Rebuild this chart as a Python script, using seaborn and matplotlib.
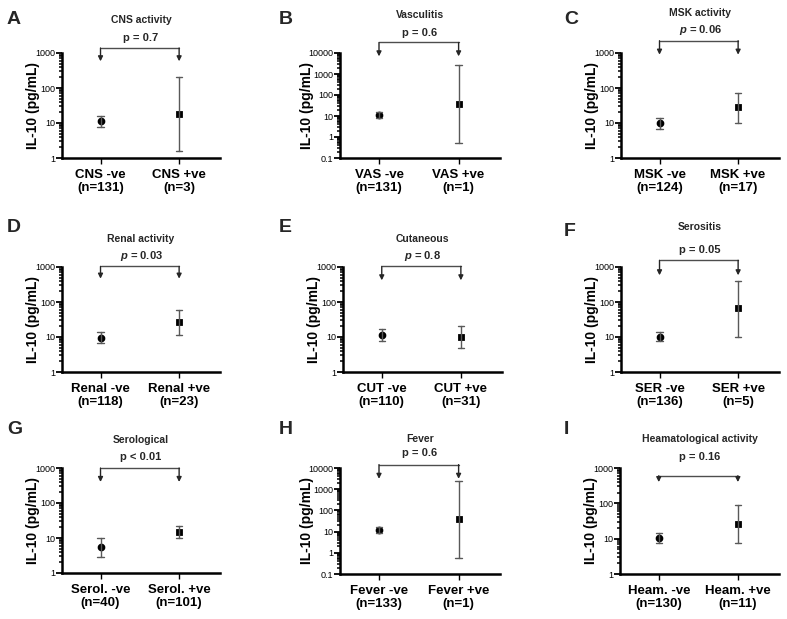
#!/usr/bin/env python3
# IL-10 levels by clinical domain, 3x3 grid of median + range plots

import numpy as np
import pandas as pd
import seaborn as sns
import matplotlib.pyplot as plt
from matplotlib.ticker import NullFormatter

sns.set_style("ticks")
plt.rcParams['font.family'] = ['Liberation Sans', 'DejaVu Sans']
plt.rcParams['mathtext.fontset'] = 'custom'
plt.rcParams['mathtext.it'] = 'Liberation Sans:italic:bold'

panels = list("ABCDEFGHI")
titles = ["CNS activity", "Vasculitis", "MSK activity",
          "Renal activity", "Cutaneous", "Serositis",
          "Serological", "Fever", "Heamatological activity"]
p_labels = ["p = 0.7", "p = 0.6", "$p$ = 0.06",
            "$p$ = 0.03", "$p$ = 0.8", "p = 0.05",
            "p < 0.01", "p = 0.6", "p = 0.16"]
neg_names = ["CNS -ve", "VAS -ve", "MSK -ve", "Renal -ve", "CUT -ve",
             "SER -ve", "Serol. -ve", "Fever -ve", "Heam. -ve"]
pos_names = ["CNS +ve", "VAS +ve", "MSK +ve", "Renal +ve", "CUT +ve",
             "SER +ve", "Serol. +ve", "Fever +ve", "Heam. +ve"]
n_neg = [131, 131, 124, 118, 110, 136, 40, 133, 130]
n_pos = [3, 1, 17, 23, 31, 5, 101, 1, 11]

# median and range (pg/mL)
neg_mid = [11.5, 11.0, 10.3, 9.6, 11.4, 10.2, 5.5, 12.0, 10.5]
neg_lo = [7.9, 8.3, 6.9, 6.7, 7.9, 7.5, 2.9, 8.7, 7.3]
neg_hi = [16.0, 15.9, 14.3, 13.6, 16.6, 14.2, 10.3, 15.9, 14.9]
pos_mid = [18.2, 36.0, 28.4, 26.8, 10.0, 67.0, 14.9, 39.0, 26.0]
pos_lo = [1.55, 0.52, 10.3, 11.2, 4.9, 10.2, 10.3, 0.6, 7.6]
pos_hi = [204, 2570, 74, 60, 20.6, 407, 22, 2450, 89]

y_min = [1, 0.1, 1, 1, 1, 1, 1, 0.1, 1]
y_max = [1000, 10000, 1000, 1000, 1000, 1000, 1000, 10000, 1000]

# layout in pixels: axes left, right, top, bottom
W, H = 787, 619
boxes = [(62, 220, 53, 158), (340, 500, 53, 158), (621, 779, 53, 158),
         (62, 220, 267, 372), (343, 502, 267, 372), (621, 779, 267, 372),
         (62, 220, 468, 573), (340, 500, 468, 574), (620, 779, 468, 574)]
letter_xy = [(7, 20), (279, 20), (564, 20),
             (7, 228), (279, 228), (564, 231),
             (7, 430), (279, 430), (564, 430)]
# axes-fraction heights: title, p text, bracket, arrow tip
ann_y = [(1.317, 1.143, 1.048, 0.921), (1.365, 1.19, 1.10, 0.968),
         (1.38, 1.222, 1.117, 0.984), (1.27, 1.105, 1.006, 0.889),
         (1.27, 1.105, 1.006, 0.873), (1.38, 1.165, 1.064, 0.921),
         (1.27, 1.105, 1.0, 0.867), (1.27, 1.137, 1.032, 0.898),
         (1.27, 1.105, 0.927, 0.867)]

fig = plt.figure(figsize=(W / 100, H / 100), dpi=100)

for i in range(9):
    l, r, t, b = boxes[i]
    ax = fig.add_axes([l / W, 1 - b / H, (r - l) / W, (b - t) / H])

    lab_neg = f"{neg_names[i]}\n(n={n_neg[i]})"
    lab_pos = f"{pos_names[i]}\n(n={n_pos[i]})"
    df = pd.DataFrame({
        "group": [lab_neg] * 3 + [lab_pos] * 3,
        "status": ["neg"] * 3 + ["pos"] * 3,
        "value": [neg_lo[i], neg_mid[i], neg_hi[i],
                  pos_lo[i], pos_mid[i], pos_hi[i]],
    })

    sns.pointplot(
        data=df, x="group", y="value", hue="status",
        order=[lab_neg, lab_pos], hue_order=["neg", "pos"],
        palette=["black", "black"], markers=["o", "s"], linestyle="none",
        estimator="median", errorbar=("pi", 100), capsize=0.08,
        err_kws={"color": "0.35", "linewidth": 1.0}, markersize=3.5,
        log_scale=(False, True), legend=False, ax=ax,
    )

    ax.set_ylim(y_min[i], y_max[i])
    ax.set_xlim(-0.49, 1.52)
    lo_exp = int(round(np.log10(y_min[i])))
    hi_exp = int(round(np.log10(y_max[i])))
    ticks = [10.0 ** k for k in range(lo_exp, hi_exp + 1)]
    minor = [m * 10.0 ** k for k in range(lo_exp, hi_exp) for m in range(2, 10)]
    tick_labels = [f"{v:g}" for v in ticks]
    ax.set_yticks(ticks, labels=tick_labels)
    ax.set_yticks(minor, minor=True)
    ax.yaxis.set_minor_formatter(NullFormatter())

    sns.despine(ax=ax)
    for side in ("left", "bottom"):
        ax.spines[side].set_linewidth(1.8)
        ax.spines[side].set_color("black")
    ax.tick_params(axis="y", which="major", length=4, width=1.3, labelsize=6.5,
                   pad=1, color="black", labelcolor="black")
    ax.tick_params(axis="y", which="minor", length=2.2, width=1.1, color="black")
    ax.tick_params(axis="x", length=4, width=1.0, labelsize=9.5, pad=4,
                   color="black", labelcolor="black")
    for tl in ax.get_xticklabels():
        tl.set_fontweight("bold")
        tl.set_linespacing(1.1)

    ax.set_xlabel("")
    ax.set_ylabel("IL-10 (pg/mL)", fontsize=10, fontweight="bold", color="black")
    nchar = max(len(s) for s in tick_labels)
    ax.yaxis.set_label_coords(-(4 + 4.5 * nchar) / (r - l), 0.5)

    ty, py, by, tipy = ann_y[i]
    ax.text(0.5, ty, titles[i], transform=ax.transAxes, ha="center",
            va="center", fontsize=7.5, fontweight="bold")
    ax.text(0.5, py, p_labels[i], transform=ax.transAxes, ha="center",
            va="center", fontsize=8, fontweight="bold")

    tr = ax.get_xaxis_transform()
    ax.plot([0, 1], [by, by], color="0.3", lw=1.0, transform=tr, clip_on=False)
    for xc in (0, 1):
        ax.annotate("", xy=(xc, tipy), xytext=(xc, by), xycoords=tr, textcoords=tr,
                    arrowprops=dict(arrowstyle="-|>", color="0.15", lw=1.0,
                                    mutation_scale=7, shrinkA=0, shrinkB=0))

    lx, ly = letter_xy[i]
    fig.text(lx / W, 1 - ly / H, panels[i], ha="left", va="center",
             fontsize=14, fontweight="bold")

plt.savefig("out.png", dpi=100)
